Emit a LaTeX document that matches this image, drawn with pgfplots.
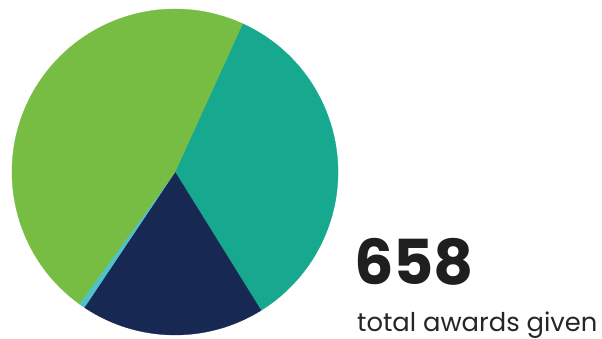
\documentclass[border=0pt]{standalone}
\usepackage{pgfplots}
\usepackage{pgfplotstable}
\pgfplotsset{compat=1.18}
\usepackage{fontspec}
\setmainfont{Poppins}
\definecolor{pgreen}{HTML}{77BC43}
\definecolor{pteal}{HTML}{17A98F}
\definecolor{pnavy}{HTML}{172952}
\definecolor{psky}{HTML}{4FC3C7}
\pgfplotstableread{
v c
226 pteal
120 pnavy
4 psky
308 pgreen
}\piedata
\begin{document}
\begin{tikzpicture}
\begin{axis}[width=602pt,height=339pt,scale only axis,
  xmin=0,xmax=602,ymin=0,ymax=339,hide axis,clip=false,
  anchor=south west, at={(0pt,0pt)}]
\addplot[draw=none] coordinates {(0,0) (602,339)};
\xdef\ang{65.5}
\foreach \i in {0,...,3}{
  \pgfplotstablegetelem{\i}{v}\of\piedata
  \pgfmathsetmacro\v{\pgfplotsretval}
  \pgfplotstablegetelem{\i}{c}\of\piedata
  \edef\col{\pgfplotsretval}
  \pgfmathsetmacro\newang{\ang-\v/658*360}
  \edef\cmd{\noexpand\fill[\col, draw=\col, line width=0.3pt] (axis cs:175,167) -- ++(\ang:163pt) arc[start angle=\ang, end angle=\newang, radius=163pt] -- cycle;}
  \cmd
  \xdef\ang{\newang}
}
\node[anchor=base west, inner sep=0pt, font=\fontsize{62}{62}\selectfont\bfseries, text=black!88] at (axis cs:354,54) {658};
\node[anchor=base west, inner sep=0pt, font=\fontsize{25.8}{26}\selectfont, text=black!85] at (axis cs:357,7) {total awards given};
\end{axis}
\pgfresetboundingbox
\useasboundingbox (0pt,0pt) rectangle (602pt,339pt);
\end{tikzpicture}
\end{document}
